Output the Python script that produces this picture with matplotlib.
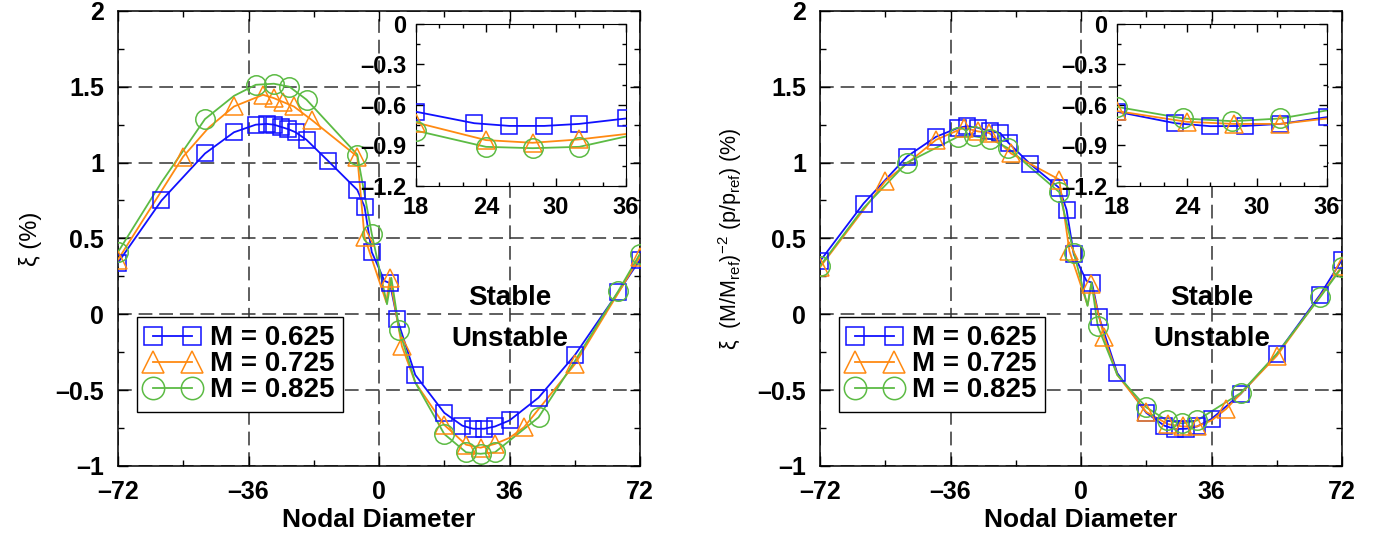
import matplotlib.pyplot as plt
from matplotlib.lines import Line2D
from matplotlib.ticker import MultipleLocator, FuncFormatter
import numpy as np

plt.rcParams['font.family'] = ['Liberation Sans', 'DejaVu Sans']
plt.rcParams['font.weight'] = 'bold'
plt.rcParams['mathtext.fontset'] = 'custom'
plt.rcParams['mathtext.rm'] = 'Liberation Sans'
plt.rcParams['mathtext.it'] = 'Liberation Sans:italic'

# datos: diametro nodal y amortiguamiento (%)
# panel izquierdo: xi (%)
nd_izq_b = [-72, -60, -48, -40, -34, -31, -29, -27, -25, -23, -20, -14, -6, -4, -2, 1.5, 3, 5,
            10, 18, 23, 26, 29, 32, 36, 44, 54, 66, 72]
xi_izq_b = [0.34, 0.75, 1.06, 1.20, 1.25, 1.255, 1.25, 1.235, 1.22, 1.20, 1.15, 1.01, 0.82, 0.71,
            0.41, 0.22, 0.205, -0.03, -0.40, -0.65, -0.735, -0.755, -0.755, -0.74, -0.70, -0.55,
            -0.27, 0.147, 0.36]
nd_izq_n = [-72, -54, -47, -40, -32, -29, -26.5, -23.5, -18.5, -6, -4, 2, 3, 6.3, 10, 18, 24, 28,
            32, 36, 40, 54, 66, 72]
xi_izq_n = [0.36, 1.04, 1.23, 1.37, 1.447, 1.425, 1.40, 1.37, 1.28, 1.04, 0.51, 0.08, 0.24, -0.21,
            -0.45, -0.73, -0.86, -0.88, -0.855, -0.815, -0.745, -0.33, 0.14, 0.38]
nd_izq_v = [-72, -60, -48, -40, -34, -29, -24.7, -20, -6, -2, 2.2, 3.4, 5.6, 10, 18, 24, 28, 32,
            44, 54, 66, 72]
xi_izq_v = [0.41, 0.87, 1.287, 1.44, 1.513, 1.52, 1.50, 1.415, 1.053, 0.53, 0.066, 0.24, -0.105,
            -0.45, -0.79, -0.91, -0.92, -0.91, -0.68, -0.31, 0.153, 0.40]

# panel derecho: xi escalado con (M/Mref)^-2 (p/pref)
nd_der_b = [-72, -60, -48, -40, -34, -31.5, -28.5, -25, -22.3, -20, -14, -6, -4, -2, 1.5, 3, 5,
            10, 18, 23, 26, 29, 32, 36, 44, 54, 66, 72]
xi_der_b = [0.35, 0.73, 1.04, 1.17, 1.228, 1.24, 1.23, 1.206, 1.195, 1.13, 0.99, 0.833, 0.69,
            0.395, 0.22, 0.209, -0.02, -0.388, -0.65, -0.735, -0.757, -0.755, -0.74, -0.69,
            -0.526, -0.263, 0.13, 0.36]
nd_der_n = [-72, -54, -40, -32.3, -28.5, -25.3, -19.3, -6, -3.2, 1.8, 2.8, 6.4, 10, 18, 24, 28,
            32, 36, 40, 54, 66, 72]
xi_der_n = [0.31, 0.877, 1.15, 1.23, 1.206, 1.195, 1.06, 0.888, 0.416, 0.06, 0.197, -0.153, -0.40,
            -0.645, -0.725, -0.74, -0.74, -0.70, -0.625, -0.274, 0.12, 0.318]
nd_der_v = [-72, -60, -48, -34, -29.4, -25, -20.2, -6, -2, 1.8, 2.9, 4.6, 10, 18, 23.7, 27.9, 32,
            44, 54, 66, 72]
xi_der_v = [0.318, 0.70, 1.0, 1.17, 1.173, 1.156, 1.096, 0.805, 0.406, 0.055, 0.21, -0.077, -0.40,
            -0.614, -0.70, -0.72, -0.70, -0.52, -0.26, 0.114, 0.31]

# puntos de la curva que no llevan marcador
sin_izq_b = [1.5]
sin_izq_n = [-47, 2, 10, 36, 66]
sin_izq_v = [-60, -40, 2.2, 3.4, 10, 54]
sin_der_b = [1.5]
sin_der_n = [1.8, 10, 36, 66]
sin_der_v = [-60, 1.8, 2.9, 10, 54]

etiquetas = ['M = 0.625', 'M = 0.725', 'M = 0.825']
colores = ['#1010ff', '#ff8a12', '#5cbb44']
marcadores = ['s', '^', 'o']
tamanos = [11.5, 13.5, 14]


def fmt(v, pos):
    s = '%g' % round(v, 2)
    return s.replace('-', '\u2013')


def curvas(ax, datos):
    for (nd, xi, sin), c, m, ms in zip(datos, colores, marcadores, tamanos):
        nd = np.asarray(nd)
        xi = np.asarray(xi)
        idx = [i for i, n in enumerate(nd) if n not in sin]
        ax.plot(nd, xi, '-', color=c, lw=1.3, zorder=3)
        ax.plot(nd[idx], xi[idx], ls='none', marker=m, ms=ms, mfc='none', mec=c, mew=1.1, zorder=4)


def panel(ax, axin, datos, ylabel, ysize):
    curvas(ax, datos)
    ax.set_xlim(-72, 72)
    ax.set_ylim(-1, 2)
    ax.xaxis.set_major_locator(MultipleLocator(36))
    ax.xaxis.set_minor_locator(MultipleLocator(18))
    ax.yaxis.set_major_locator(MultipleLocator(0.5))
    ax.yaxis.set_minor_locator(MultipleLocator(0.25))
    ax.xaxis.set_major_formatter(FuncFormatter(fmt))
    ax.yaxis.set_major_formatter(FuncFormatter(fmt))
    ax.tick_params(which='both', direction='in', top=True, right=True, labelsize=18, width=1)
    ax.tick_params(which='major', length=7, pad=10)
    ax.tick_params(which='minor', length=4)
    ax.grid(True, which='major', color='#333333', linestyle=(0, (9, 4.5)), linewidth=1.1)
    for sp in ax.spines.values():
        sp.set_linewidth(1.1)
    ax.set_xlabel('Nodal Diameter', fontsize=19, fontweight='bold', labelpad=3)
    ax.set_ylabel(ylabel, fontsize=ysize, fontweight='normal', labelpad=10)
    ax.text(36, 0.11, 'Stable', ha='center', va='center', fontsize=20, fontweight='bold')
    ax.text(36, -0.16, 'Unstable', ha='center', va='center', fontsize=20, fontweight='bold')

    handles = [Line2D([], [], color=c, lw=1.3, marker=m, ms=ms * 1.15, mfc='none', mec=c, mew=1.1)
               for c, m, ms in zip(colores, marcadores, tamanos)]
    leg = ax.legend(handles, etiquetas, loc='lower left', bbox_to_anchor=(0.036, 0.119),
                    borderaxespad=0, numpoints=2, handlelength=2.0, handletextpad=0.35,
                    labelspacing=0.0, fancybox=False, framealpha=1, edgecolor='black',
                    prop={'size': 20, 'weight': 'bold'}, borderpad=0.3)
    leg.get_frame().set_linewidth(1.0)
    leg.set_zorder(6)

    # recuadro ampliado del valle
    curvas(axin, datos)
    axin.set_xlim(18, 36)
    axin.set_ylim(-1.2, 0)
    axin.xaxis.set_major_locator(MultipleLocator(6))
    axin.xaxis.set_minor_locator(MultipleLocator(2))
    axin.yaxis.set_major_locator(MultipleLocator(0.3))
    axin.yaxis.set_minor_locator(MultipleLocator(0.15))
    axin.xaxis.set_major_formatter(FuncFormatter(fmt))
    axin.yaxis.set_major_formatter(FuncFormatter(fmt))
    axin.tick_params(which='both', direction='in', top=True, right=True, labelsize=17, width=1)
    axin.tick_params(which='major', length=6, pad=7)
    axin.tick_params(which='minor', length=3)
    axin.set_facecolor('white')


fig = plt.figure(figsize=(13.8, 5.38), dpi=100)
ax1 = fig.add_axes([0.0855, 0.134, 0.3783, 0.8457])
ax2 = fig.add_axes([0.5942, 0.134, 0.3783, 0.8457])
in1 = fig.add_axes([0.3014, 0.6543, 0.1522, 0.3011])
in2 = fig.add_axes([0.8094, 0.6543, 0.1522, 0.3011])

panel(ax1, in1, [(nd_izq_b, xi_izq_b, sin_izq_b), (nd_izq_n, xi_izq_n, sin_izq_n),
                 (nd_izq_v, xi_izq_v, sin_izq_v)], 'ξ (%)', 17)
panel(ax2, in2, [(nd_der_b, xi_der_b, sin_der_b), (nd_der_n, xi_der_n, sin_der_n),
                 (nd_der_v, xi_der_v, sin_der_v)],
      r'ξ  (M/M$_{\mathregular{ref}}$)$^{\mathregular{-2}}$ (p/p$_{\mathregular{ref}}$) (%)', 15.5)

plt.savefig('out.png', dpi=100)
